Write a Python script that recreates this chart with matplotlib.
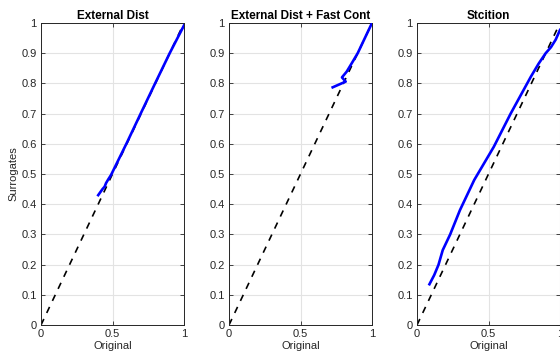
import matplotlib
matplotlib.use("Agg")
import matplotlib.pyplot as plt

titles = ["External Dist", "External Dist + Fast Cont", "Stcition"]

ext_x = [0.40, 0.43, 0.445, 0.455, 0.47, 0.49, 0.60, 0.70, 0.80, 0.90, 1.00]
ext_y = [0.43, 0.45, 0.458, 0.47, 0.482, 0.497, 0.603, 0.703, 0.802, 0.900, 0.992]

fast_x = [0.725, 0.816, 0.79, 0.823, 0.86, 0.90, 0.95, 1.00]
fast_y = [0.787, 0.806, 0.82, 0.839, 0.868, 0.90, 0.95, 1.00]

stic_x = [0.087, 0.12, 0.15, 0.18, 0.232, 0.30, 0.40, 0.537, 0.655, 0.796, 0.85, 0.90, 0.937, 0.97, 1.00]
stic_y = [0.135, 0.165, 0.199, 0.248, 0.30, 0.38, 0.48, 0.59, 0.70, 0.822, 0.865, 0.90, 0.92, 0.945, 0.977]

ref_x = [0, 1]
ref_y = [0, 1]

series = [(ext_x, ext_y), (fast_x, fast_y), (stic_x, stic_y)]

plt.rcParams['font.family'] = ['Liberation Sans', 'DejaVu Sans']

fig = plt.figure(figsize=(5.6, 3.56), dpi=100)
lefts = [41/560, 229/560, 417/560]
w = 143/560
b = 31/356
h = 302/356

for i, (xs, ys) in enumerate(series):
    ax = fig.add_axes([lefts[i], b, w, h])
    ax.plot(ref_x, ref_y, color='black', linestyle=(0, (4, 4)), lw=1.2, zorder=2)
    ax.plot(xs, ys, color='#0000ff', lw=1.9, zorder=3)
    ax.set_xlim(0, 1)
    ax.set_ylim(0, 1)
    ax.set_xticks([0, 0.5, 1])
    ax.set_xticklabels(["0", "0.5", "1"])
    ax.set_yticks([i/10 for i in range(11)])
    ax.set_yticklabels(["0", "0.1", "0.2", "0.3", "0.4", "0.5", "0.6", "0.7", "0.8", "0.9", "1"])
    ax.grid(True, color='#e3e3e3', lw=0.8)
    ax.set_axisbelow(True)
    ax.tick_params(direction='in', length=3, width=0.6, top=True, right=True,
                   labelsize=8, colors='#262626', labelcolor='#262626', pad=3)
    for s in ax.spines.values():
        s.set_color('#262626')
        s.set_linewidth(0.7)
    ax.set_title(titles[i], fontsize=8.5, fontweight='bold', pad=3)
    ax.set_xlabel("Original", fontsize=8, color='#262626', labelpad=1)
    if i == 0:
        ax.set_ylabel("Surrogates", fontsize=8, color='#262626', labelpad=2)

fig.savefig("out.png", dpi=100)
